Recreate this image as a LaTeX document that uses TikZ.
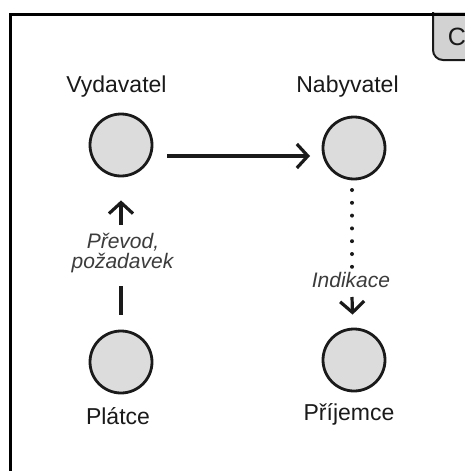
\documentclass[tikz,border=0pt]{standalone}
\usepackage{fontspec}
\setmainfont{Liberation Sans}
\usetikzlibrary{arrows.meta}
\definecolor{nodegrey}{HTML}{DCDCDC}
\definecolor{tabgrey}{HTML}{D2D2D2}
\definecolor{ink}{HTML}{1A1A1A}
\begin{document}
\begin{tikzpicture}[x=1pt,y=-1pt,
  party/.style={circle, draw=ink, fill=nodegrey, line width=2.8pt, minimum size=62pt, inner sep=0pt},
  partyname/.style={text=ink, font=\fontsize{23}{27}\selectfont, inner sep=0pt, anchor=base},
  flowlabel/.style={text=ink!85, font=\fontsize{21}{21}\selectfont\itshape, inner sep=0pt, align=center, anchor=base},
  flowarrow/.style={draw=ink, line width=3.2pt, -{Straight Barb[length=11pt,width=24pt,line width=3.2pt]}},
  solidline/.style={draw=ink, line width=3.2pt},
  dotline/.style={draw=ink, line width=4pt, line cap=round, dash pattern=on 0pt off 12.8pt}
]
\useasboundingbox (0,0) rectangle (465,471);
\fill[white] (0,0) rectangle (465,471);

% corner tab
\draw[fill=tabgrey, draw=ink, line width=2pt, rounded corners=10pt]
  (433,12) -- (433,60) -- (475,60) -- (475,12);
\node[text=ink, font=\fontsize{25}{29}\selectfont, inner sep=0pt] (tab) at (457,37) {C};

% frame
\draw[black, line width=3pt] (10.5,471) -- (10.5,14.5) -- (465,14.5);

% parties
\node[party] (vyd) at (121,145) {};
\node[party] (nab) at (354,148) {};
\node[party] (plat) at (121,362) {};
\node[party] (prij) at (354,360) {};

\node[partyname] (vydl) at (116.5,92) {Vydavatel};
\node[partyname] (nabl) at (347.5,92) {Nabyvatel};
\node[partyname] (platl) at (118,424) {Plátce};
\node[partyname] (prijl) at (349,420) {Příjemce};

% transfer between issuer and acquirer
\coordinate (h1) at (167,156);
\coordinate (h2) at (310,156);
\draw[flowarrow] (h1) -- (h2);

% payer request, line broken by its label
\coordinate (u1) at (121,225);
\coordinate (u2) at (121,286);
\draw[flowarrow, shorten >=23pt] (u1) -- (vyd);
\draw[solidline, shorten <=15pt] (plat) -- (u2);
\node[flowlabel] (req) at (123,248) {Převod,};
\node[flowlabel] (req2) at (122.5,268) {požadavek};

% indication towards the receiver
\coordinate (d1) at (352,190);
\coordinate (d2) at (352,270);
\draw[dotline] (d1) -- (d2);
\node[flowlabel] (ind) at (351,287) {Indikace};
\coordinate (i1) at (352,297);
\draw[flowarrow, shorten >=13pt] (i1) -- (prij);
\end{tikzpicture}
\end{document}
